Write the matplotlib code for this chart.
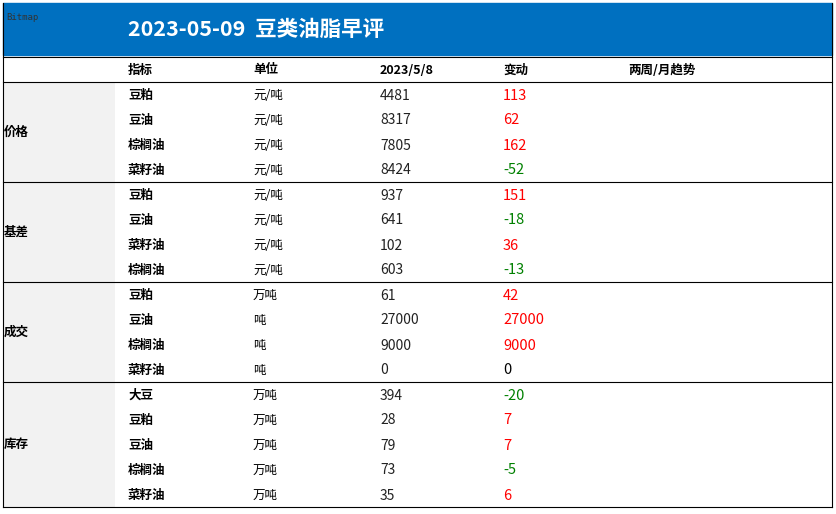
import matplotlib
matplotlib.use("Agg")
import matplotlib.pyplot as plt
from matplotlib.patches import Rectangle
from matplotlib import font_manager as fm

cands = ["Noto Sans CJK SC", "Noto Sans CJK JP", "Noto Sans CJK TC", "Noto Sans CJK KR"]
avail = {f.name for f in fm.fontManager.ttflist}
cjk = [c for c in cands if c in avail]
plt.rcParams["font.family"] = ["sans-serif"]
plt.rcParams["font.sans-serif"] = cjk + ["DejaVu Sans"]

title = "2023-05-09  豆类油脂早评"
headers = ["指标", "单位", "2023/5/8", "变动", "两周/月趋势"]
groups = ["价格", "基差", "成交", "库存"]
group_items = [
    ["豆粕", "豆油", "棕榈油", "菜籽油"],
    ["豆粕", "豆油", "菜籽油", "棕榈油"],
    ["豆粕", "豆油", "棕榈油", "菜籽油"],
    ["大豆", "豆粕", "豆油", "棕榈油", "菜籽油"],
]
group_units = [
    ["元/吨"] * 4,
    ["元/吨"] * 4,
    ["万吨", "吨", "吨", "吨"],
    ["万吨"] * 5,
]
group_values = [
    [4481, 8317, 7805, 8424],
    [937, 641, 102, 603],
    [61, 27000, 9000, 0],
    [394, 28, 79, 73, 35],
]
group_changes = [
    [113, 62, 162, -52],
    [151, -18, 36, -13],
    [42, 27000, 9000, 0],
    [-20, 7, 7, -5, 6],
]

fig = plt.figure(figsize=(8.36, 5.14), dpi=100)
ax = fig.add_axes([0, 0, 1, 1])
ax.set_xlim(0, 836)
ax.set_ylim(514, 0)
ax.axis("off")

ax.add_patch(Rectangle((3, 3), 829, 52, color="#0070c0"))
ax.text(128, 29, title, color="white", fontsize=15.5, fontweight="bold", va="center")
ax.text(6, 18, "Bitmap", fontsize=6.5, family="DejaVu Sans Mono", color="#333333", va="center")

col_x = [128, 253, 380, 503, 628]
ax.plot([3, 832], [57, 57], color="black", lw=0.8)
for x, h in zip(col_x, headers):
    ax.text(x, 70, h, fontsize=9, fontweight="bold", va="center")
ax.plot([3, 832], [82, 82], color="black", lw=0.8)

row_h = 25
y = 82
for g, items, units, vals, chs in zip(groups, group_items, group_units, group_values, group_changes):
    n = len(items)
    ax.add_patch(Rectangle((3, y), 112, n * row_h, color="#f2f2f2", lw=0))
    ax.text(4, y + n * row_h / 2, g, fontsize=9, fontweight="bold", va="center")
    for i in range(n):
        yc = y + row_h * i + row_h / 2 + 1
        ax.text(col_x[0], yc, items[i], fontsize=9, fontweight="bold", va="center")
        ax.text(col_x[1], yc, units[i], fontsize=9, va="center")
        ax.text(col_x[2], yc, str(vals[i]), fontsize=10, va="center", color="#222222")
        c = chs[i]
        col = "#ff0000" if c > 0 else ("#008000" if c < 0 else "black")
        ax.text(col_x[3], yc, str(c), fontsize=10.5, va="center", color=col)
    y += n * row_h
    ax.plot([3, 832], [y, y], color="black", lw=0.8)

ax.plot([3, 3], [3, y], color="black", lw=0.8)
ax.plot([832, 832], [3, y], color="black", lw=0.8)

fig.savefig("out.png", dpi=100)
